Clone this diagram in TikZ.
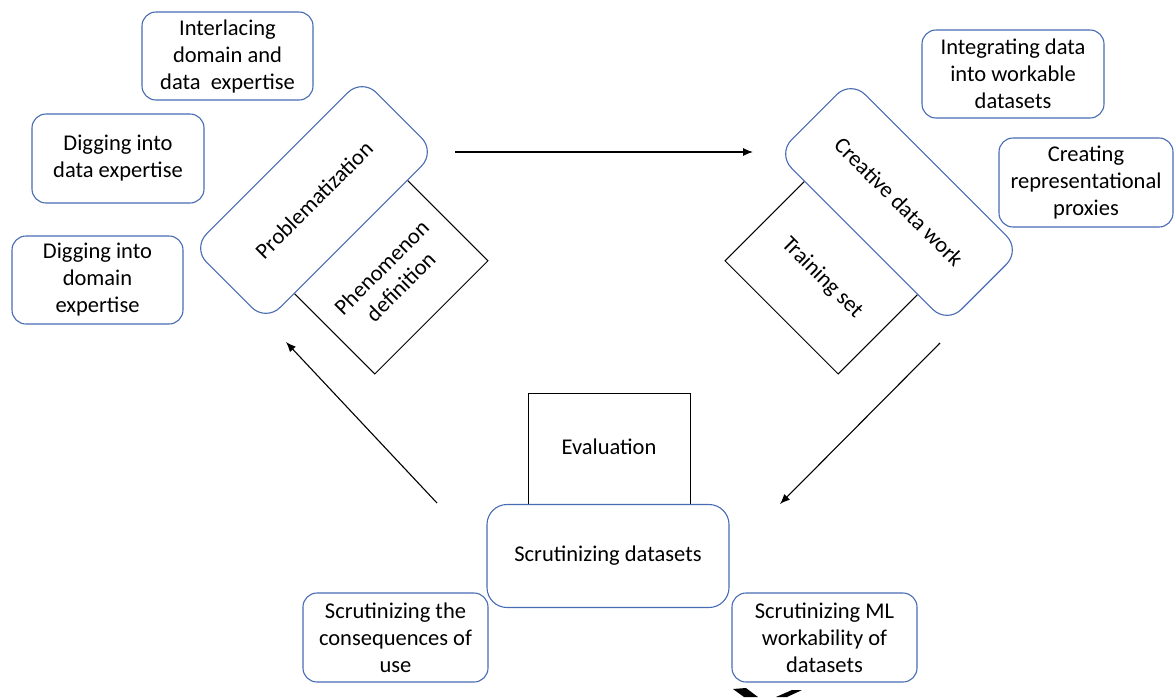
\documentclass[tikz,border=0pt]{standalone}
\usepackage{fontspec}
\setmainfont{Carlito}
\usetikzlibrary{arrows.meta}
\definecolor{boxblue}{RGB}{72,108,180}
\begin{document}
\begin{tikzpicture}[x=1pt,y=-1pt,
  every node/.style={font=\fontsize{22.5}{27}\selectfont, inner sep=0pt, align=center},
  mainbox/.style={draw=boxblue, line width=1.1pt, fill=white, rounded corners=20pt, minimum width=240pt, minimum height=104pt},
  sqbox/.style={draw=black, line width=1pt, fill=white, minimum width=160pt, minimum height=160pt},
  sidebox/.style={draw=boxblue, line width=1.1pt, fill=white, rounded corners=14pt},
  flow/.style={draw=black, line width=1.1pt, -{Latex[length=10pt,width=8pt]}}
]
\useasboundingbox (0,0) rectangle (1176,697);

% squares behind the main boxes
\node[sqbox, rotate=45] (phsq) at (374.8,260.8) {};
\node[rotate=45] (phtxt) at (391,277) {Phenomenon\\definition};
\node[sqbox, rotate=-45] (trsq) at (838.2,260.8) {};
\node[rotate=-45] (trtxt) at (822,278) {Training set};
\node[sqbox, minimum width=162pt] (evsq) at (609,473) {};
\node (evtxt) at (609,447) {Evaluation};

% main boxes
\node[mainbox, rotate=45] (prob) at (314,200) {Problematization};
\node[mainbox, rotate=-45] (crea) at (899,202) {Creative data work};
\node[mainbox, minimum width=242pt, minimum height=103pt] (scru) at (608,556) {Scrutinizing datasets};

% side boxes
\node[sidebox, minimum width=171pt, minimum height=88pt] (inter) at (227.5,56) {Interlacing\\domain and\\data~ expertise};
\node[sidebox, minimum width=172pt, minimum height=89pt] (digdata) at (118,158.5) {Digging into\\data expertise};
\node[sidebox, minimum width=171pt, minimum height=88pt] (digdom) at (97.5,280) {Digging into\\domain\\expertise};
\node[sidebox, minimum width=182pt, minimum height=88pt] (integ) at (1013,74) {Integrating data\\into workable\\datasets};
\node[sidebox, minimum width=174pt, minimum height=89pt] (creat) at (1086,182.5) {Creating\\representational\\proxies};
\node[sidebox, minimum width=185pt, minimum height=89pt] (conseq) at (395.5,637.5) {Scrutinizing the\\consequences of\\use};
\node[sidebox, minimum width=185pt, minimum height=89pt] (mlwork) at (824.5,637.5) {Scrutinizing ML\\workability of\\datasets};

% connectors
\coordinate (a1s) at (455,152);
\coordinate (a1e) at (753,152);
\coordinate (a2s) at (940,343);
\coordinate (a2e) at (780,504);
\coordinate (a3s) at (437,503);
\coordinate (a3e) at (286,342);
\draw[flow] (a1s) -- (a1e);
\draw[flow] (a2s) -- (a2e);
\draw[flow] (a3s) -- (a3e);

% partial black marks at the bottom edge
\fill[black] (733,689) -- (746,688) -- (758,697) -- (744,697) -- cycle;
\fill[black] (792,690) -- (802,690) -- (787,697) -- (776,697) -- cycle;
\end{tikzpicture}
\end{document}
